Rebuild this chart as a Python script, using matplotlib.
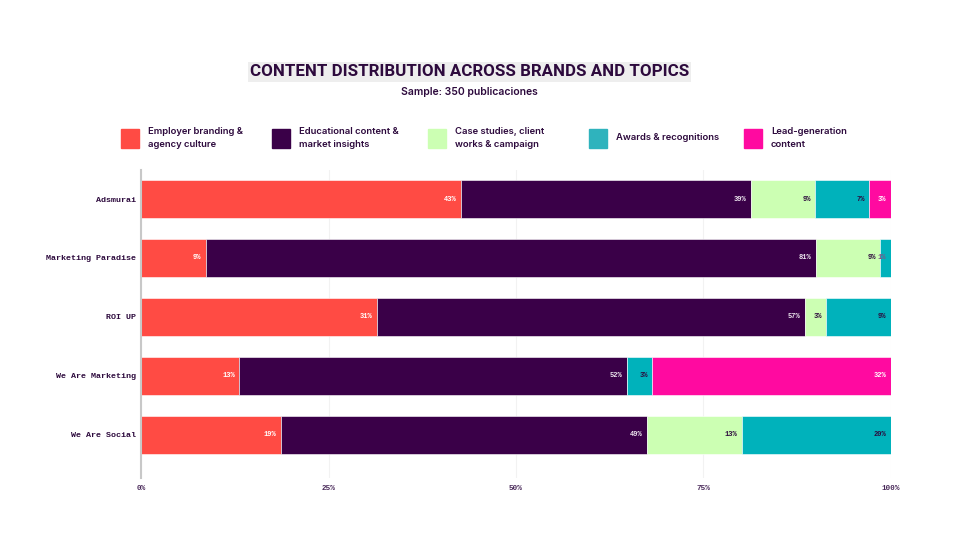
import numpy as np
import matplotlib.pyplot as plt
from matplotlib.patches import Rectangle

brands = ["Adsmurai", "Marketing Paradise", "ROI UP", "We Are Marketing", "We Are Social"]
topics = ["Employer branding &\nagency culture",
          "Educational content &\nmarket insights",
          "Case studies, client\nworks & campaign",
          "Awards & recognitions",
          "Lead-generation\ncontent"]
# share of posts per topic (%), one list per topic, in brand order
employer = [42.7, 8.6, 31.4, 13.1, 18.6]
educational = [38.6, 81.4, 57.1, 51.7, 48.9]
case_studies = [8.6, 8.6, 2.9, 0.0, 12.6]
awards = [7.2, 1.4, 8.6, 3.4, 19.9]
lead_gen = [2.9, 0.0, 0.0, 31.8, 0.0]
xticks = [0, 25, 50, 75, 100]

colors = ["#FF4B44", "#3A0048", "#CCFFB3", "#00B2BB", "#FF0AA0"]
legend_colors = ["#FF4B44", "#3A0048", "#CCFFB3", "#2FB3BD", "#FF0AA0"]
label_colors = ["white", "#EDE6EF", "#2D0A3D", "#2D0A3D", "white"]
ink = "#2D0A3D"

def main():
    series = [employer, educational, case_studies, awards, lead_gen]
    fig = plt.figure(figsize=(9.6, 5.4), dpi=100)
    ax = fig.add_axes([0.147, 0.115, 0.781, 0.571])

    y = np.arange(len(brands))[::-1]
    left = np.zeros(len(brands))
    for vals, c, lc in zip(series, colors, label_colors):
        vals = np.array(vals)
        ax.barh(y, vals, left=left, height=0.64, color=c,
                edgecolor="white", linewidth=0.4, zorder=2)
        for yi, l, v in zip(y, left, vals):
            if v > 0:
                ax.text(l + v - 0.6, yi, f"{round(v)}%", ha="right", va="center",
                        fontsize=5, family="Liberation Mono", weight="bold",
                        color=lc if v > 2 else "#7A5A8A", zorder=3)
        left += vals

    ax.set_xlim(0, 100)
    ax.set_ylim(-0.73, 4.5)
    ax.set_yticks(y)
    ax.set_yticklabels(brands, family="Liberation Mono", weight="bold",
                       fontsize=6, color=ink)
    ax.set_xticks(xticks)
    ax.set_xticklabels([f"{t}%" for t in xticks], family="Liberation Mono",
                       weight="bold", fontsize=5.5, color="#4A2A5A")
    ax.tick_params(length=0, pad=4)
    ax.tick_params(axis="x", pad=5)
    for s in ["top", "right", "bottom"]:
        ax.spines[s].set_visible(False)
    ax.spines["left"].set_color("#C8C8C8")
    ax.spines["left"].set_linewidth(1.5)
    ax.grid(axis="x", color="#F2F2F2", linewidth=0.8, zorder=0)
    ax.set_axisbelow(True)

    # legend drawn by hand, five columns
    lx = [121, 272, 428, 589, 744]
    for x0, lab, c in zip(lx, topics, legend_colors):
        fig.add_artist(Rectangle((x0 / 960, 1 - 148 / 540), 18 / 960, 19 / 540,
                                 transform=fig.transFigure, color=c))
        fig.text((x0 + 27) / 960, 1 - 138 / 540, lab, ha="left", va="center",
                 fontsize=6.8, family="Inter", weight="semibold", color=ink,
                 linespacing=1.6)

    fig.text(0.489, 1 - 72 / 540, "CONTENT DISTRIBUTION ACROSS BRANDS AND TOPICS",
             ha="center", va="center", fontsize=12.2, family="Roboto", weight="bold",
             color=ink, bbox=dict(boxstyle="square,pad=0.12", fc="#EEEEEE", ec="none"))
    fig.text(0.489, 1 - 92 / 540, "Sample: 350 publicaciones", ha="center",
             va="center", fontsize=7.5, family="Inter", weight="semibold", color=ink)

    fig.savefig("out.png", dpi=100, facecolor="white")

if __name__ == "__main__":
    main()
